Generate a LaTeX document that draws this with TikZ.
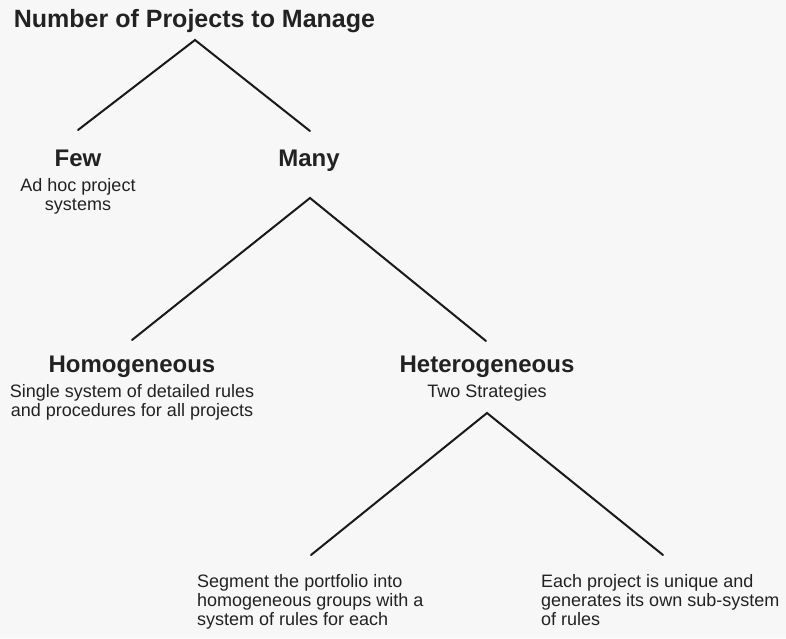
\documentclass[tikz,border=0pt]{standalone}
\usepackage{fontspec}
\setmainfont{Liberation Sans}
\definecolor{ink}{HTML}{222222}
\definecolor{paper}{HTML}{F7F7F7}
\tikzset{
  head/.style={font=\bfseries\fontsize{24}{26}\selectfont, text=ink, inner sep=0pt, anchor=base},
  titlestyle/.style={font=\bfseries\fontsize{25}{27}\selectfont, text=ink, inner sep=0pt, anchor=base},
  body/.style={font=\fontsize{18}{19}\selectfont, text=ink, inner sep=0pt, anchor=base},
  bodyleft/.style={body, anchor=base west},
  branch/.style={draw=black!90, line width=2pt, line cap=round, line join=miter}
}
\begin{document}
\begin{tikzpicture}[x=1pt,y=-1pt]
\useasboundingbox (0,0) rectangle (786,638);
\fill[paper] (0,0) rectangle (786,638);

% texts
\node[titlestyle] (title) at (194.5,27) {Number of Projects to Manage};
\node[head] (few) at (78,166) {Few};
\node[body] (fewtxt) at (78,191) {\begin{tabular}[t]{@{}c@{}}Ad hoc project\\ systems\end{tabular}};
\node[head] (many) at (309,166) {Many};
\node[head] (homo) at (132,372) {Homogeneous};
\node[body] (homotxt) at (132,397) {\begin{tabular}[t]{@{}c@{}}Single system of detailed rules\\ and procedures for all projects\end{tabular}};
\node[head] (hetero) at (487,372) {Heterogeneous};
\node[body] (heterotxt) at (487,397) {Two Strategies};
\node[bodyleft] (segment) at (197,587) {\begin{tabular}[t]{@{}l@{}}Segment the portfolio into\\ homogeneous groups with a\\ system of rules for each\end{tabular}};
\node[bodyleft] (unique) at (541,587) {\begin{tabular}[t]{@{}l@{}}Each project is unique and\\ generates its own sub-system\\ of rules\end{tabular}};

% branch points
\coordinate (apexA) at (195,40);
\coordinate (fewtop) at (78,130);
\coordinate (manytop) at (310,131);
\coordinate (apexB) at (310,198);
\coordinate (homotop) at (132,340);
\coordinate (heterotop) at (486,341);
\coordinate (apexC) at (487,413);
\coordinate (segtop) at (311,555);
\coordinate (uniqtop) at (663,555);

\draw[branch] (fewtop) -- (apexA) -- (manytop);
\draw[branch] (homotop) -- (apexB) -- (heterotop);
\draw[branch] (segtop) -- (apexC) -- (uniqtop);
\end{tikzpicture}
\end{document}
